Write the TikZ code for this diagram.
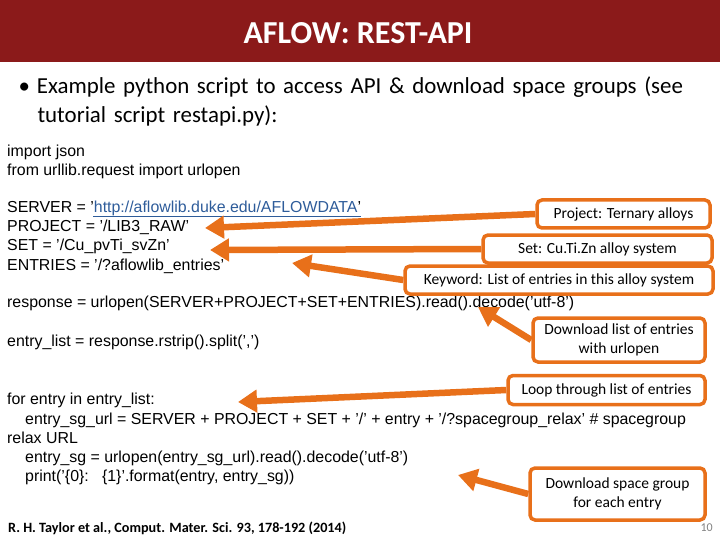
\documentclass[tikz,border=0pt]{standalone}
\usepackage{fontspec}
\setmainfont{Liberation Sans}
\newfontfamily\carfont{Carlito}
\usetikzlibrary{arrows.meta}
\definecolor{tred}{HTML}{8B1A1A}
\definecolor{org}{HTML}{E8701A}
\definecolor{lnk}{HTML}{2E5C9A}
\begin{document}
\begin{tikzpicture}[x=1pt,y=-1pt,
 code/.style={anchor=west,inner sep=0pt,font=\fontsize{15.9}{18}\selectfont},
 callout/.style={draw=org,line width=3.5pt,rounded corners=5pt,fill=white,align=center,font=\carfont\fontsize{15.5}{19.5}\selectfont,inner sep=2pt},
 arr/.style={org,line width=6.5pt,-{Triangle[length=19pt,width=22pt]}}]
\useasboundingbox (0,0) rectangle (720,540);
\fill[tred] (0,0) rectangle (720,62);
\node[white,font=\carfont\bfseries\fontsize{32}{35}\selectfont] (title) at (358,33) {AFLOW: REST-API};
\node[anchor=north west,align=left,text width=700pt,font=\carfont\fontsize{22.9}{29}\selectfont] (bul) at (15,73) {\textbullet\hspace{7pt}Example python script to access API \& download space groups (see\\\hspace{19pt}tutorial script restapi.py):};
\node[code] (c1) at (7,152) {import json};
\node[code] (c2) at (7,171) {from urllib.request import urlopen};
\node[code] (c3) at (7,208) {SERVER = '\textcolor{lnk}{http://aflowlib.duke.edu/AFLOWDATA}'};
\draw[lnk,line width=0.8pt] (93,216) -- (361,216);
\node[code] (c4) at (7,227) {PROJECT = '/LIB3\_RAW'};
\node[code] (c5) at (7,246) {SET = '/Cu\_pvTi\_svZn'};
\node[code] (c6) at (7,266) {ENTRIES = '/?aflowlib\_entries'};
\node[code] (c7) at (7,303) {response = urlopen(SERVER+PROJECT+SET+ENTRIES).read().decode('utf-8')};
\node[code] (c8) at (7,342) {entry\_list = response.rstrip().split(',')};
\node[code] (c9) at (7,400) {for entry in entry\_list:};
\node[code] (c10) at (7,420) {\hspace{18pt}entry\_sg\_url = SERVER + PROJECT + SET + '/' + entry + '/?spacegroup\_relax' \# spacegroup};
\node[code] (c11) at (7,438) {relax URL};
\node[code] (c12) at (7,458) {\hspace{18pt}entry\_sg = urlopen(entry\_sg\_url).read().decode('utf-8')};
\node[code] (c13) at (7,477) {\hspace{18pt}print('\{0\}:\ \ \ \{1\}'.format(entry, entry\_sg))};
\coordinate (t1) at (205,228);
\coordinate (t2) at (210,250);
\coordinate (t3) at (292,263);
\coordinate (t4) at (478,307);
\coordinate (t5) at (238,402);
\coordinate (t6) at (458,475);
\node[callout,minimum width=173pt,minimum height=28pt] (b1) at (623.5,214) {Project: Ternary alloys};
\node[callout,minimum width=229pt,minimum height=28pt] (b2) at (597.5,249) {Set: Cu.Ti.Zn alloy system};
\node[callout,minimum width=308pt,minimum height=28pt] (b3) at (559,280) {Keyword: List of entries in this alloy system};
\node[callout,minimum width=172pt,minimum height=44pt] (b4) at (619,340) {Download list of entries\\with urlopen};
\node[callout,minimum width=197pt,minimum height=29pt] (b5) at (606.5,390) {Loop through list of entries};
\node[callout,minimum width=175pt,minimum height=52pt] (b6) at (617.5,494) {Download space group\\for each entry};
\draw[arr] (b1.west) -- (t1);
\draw[arr] (b2.west) -- (t2);
\draw[arr] (b3.west) -- (t3);
\draw[arr] (b4.west) -- (t4);
\draw[arr] (b5.west) -- (t5);
\draw[arr] (b6.west) -- (t6);
\node[anchor=west,inner sep=0pt,font=\carfont\bfseries\fontsize{14.2}{16}\selectfont] (ref) at (8,528) {R. H. Taylor et al., Comput. Mater. Sci. 93, 178-192 (2014)};
\node[anchor=east,inner sep=0pt,gray,font=\carfont\fontsize{12}{14}\selectfont] (pg) at (713,528) {10};
\end{tikzpicture}
\end{document}
